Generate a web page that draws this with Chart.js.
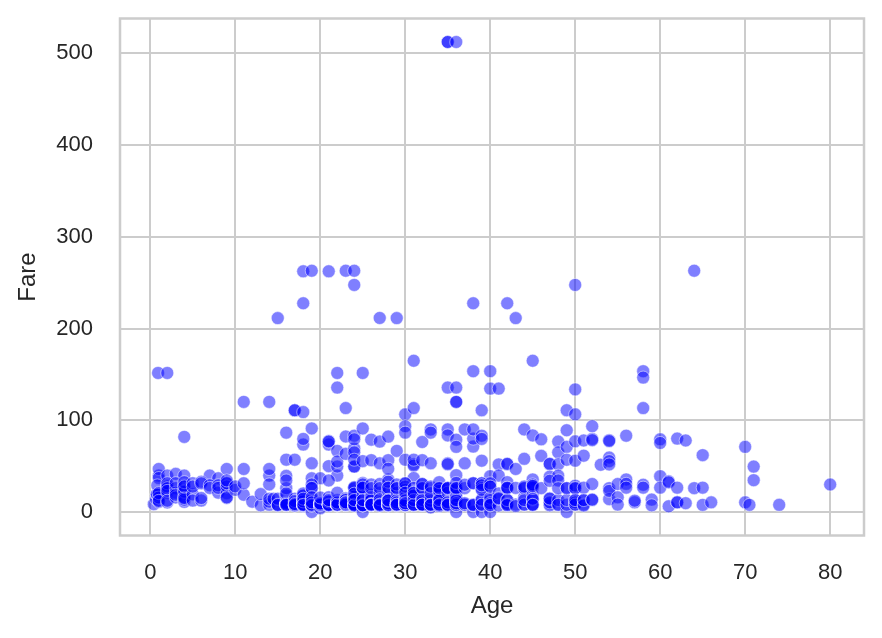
<!DOCTYPE html>
<html>
<head>
<meta charset="utf-8">
<script src="https://cdn.jsdelivr.net/npm/chart.js@4.4.1/dist/chart.umd.min.js"></script>
<style>
    html, body { margin: 0; padding: 0; background: #ffffff; }
    canvas { display: block; }
</style>
</head>
<body>
<canvas id="age-fare-chart" width="882" height="638"></canvas>
<script>
const POINT_FILL = "rgba(0, 0, 255, 0.5)";
const POINT_EDGE = "rgba(255, 255, 255, 0.5)";
const GRID_GREY = "#cccccc";
const TEXT_GREY = "#262626";
const FONT = "'Liberation Sans', Arial, sans-serif";

const AGE_TICKS = [0, 10, 20, 30, 40, 50, 60, 70, 80];
const FARE_TICKS = [0, 100, 200, 300, 400, 500];

// [age, fare], fares of 100 and up
const highFares = [
    [0.92, 151.55], [2, 151.55], [11, 120], [14, 120], [15, 211.34],
    [17, 110.88], [17, 110.88], [18, 108.9], [18, 262.38], [18, 227.53],
    [19, 263], [21, 262.38], [22, 151.55], [22, 135.63], [23, 113.28],
    [23, 263], [24, 263], [24, 247.52], [25, 151.55], [27, 211.5],
    [29, 211.34], [30, 106.43], [31, 113.28], [31, 164.87], [35, 135.63],
    [35, 512.33], [35, 512.33], [36, 512.33], [36, 135.63], [36, 120],
    [36, 120], [38, 227.53], [38, 153.46], [39, 110.88], [40, 153.46],
    [40, 134.5], [41, 134.5], [42, 227.53], [43, 211.34], [45, 164.87],
    [49, 110.88], [50, 133.65], [50, 106.43], [50, 247.52], [58, 153.46],
    [58, 146.52], [58, 113.28], [64, 263]
];

// fares between 35 and 100
const midFares = [
    [1, 39.69], [1, 46.9], [1, 37], [2, 39.69], [3, 41.58], [4, 39.69], [4, 81.86],
    [7, 39.69], [8, 36.75], [9, 46.9], [11, 46.9], [14, 39.69], [14, 46.9],
    [16, 39.4], [16, 86.5], [16, 57], [17, 57], [18, 73.5], [18, 79.65],
    [19, 91.08], [19, 53.1], [19, 36.75], [20, 36.75], [21, 73.5], [21, 50],
    [21, 77.29], [21, 76.73], [22, 39.69], [22, 66.6], [22, 49.5], [22, 55],
    [23, 63.36], [23, 82.27], [24, 49.5], [24, 69.3], [24, 83.16], [24, 79.2],
    [24, 49.5], [24, 65], [24, 57], [25, 91.08], [25, 55.44], [26, 56.5],
    [26, 78.85], [27, 76.73], [27, 53.1], [28, 35.5], [28, 82.17], [28, 56.5],
    [28, 47.1], [29, 66.6], [30, 93.5], [30, 86.5], [30, 56.93], [31, 52],
    [31, 50.5], [31, 37], [31, 57], [32, 56.5], [32, 76.29], [33, 90], [33, 86.5],
    [33, 53.1], [35, 53.1], [35, 90], [35, 83.48], [35, 52], [36, 78.85], [36, 71],
    [36, 40.13], [37, 53.1], [37, 90], [38, 71.28], [38, 80], [38, 90],
    [39, 83.16], [39, 79.65], [39, 55.9], [40, 39], [41, 51.86], [41, 39.69],
    [42, 52], [42, 52.55], [43, 46.9], [44, 90], [44, 57.98], [45, 83.48],
    [45, 35.5], [46, 79.2], [46, 61.18], [47, 52], [47, 52.55], [47, 38.5],
    [48, 76.73], [48, 65], [48, 52], [48, 39.6], [49, 89.1], [49, 71],
    [49, 56.93], [50, 55.9], [50, 77], [51, 77.96], [51, 61.38], [52, 93.5],
    [52, 79.65], [52, 78.27], [53, 51.48], [54, 78.27], [54, 77.29], [54, 59.4],
    [54, 55.44], [54, 51.86], [56, 83.16], [56, 35.5], [60, 79.2], [60, 75.25],
    [60, 39], [62, 80], [63, 77.96], [65, 61.98], [70, 71], [71, 49.5]
];

// the dense band below 35
const lowFares = [
    [0.42, 8.52], [0.67, 14.5], [0.75, 19.26], [0.75, 19.26], [0.83, 29], [0.83, 18.75],
    [1, 11.13], [1, 15.74], [1, 20.58], [1, 12.18],
    [2, 29.13], [2, 21.08], [2, 27.9], [2, 31.28], [2, 10.46], [2, 26], [2, 23], [2, 12.29],
    [3, 26], [3, 21.08], [3, 31.39], [3, 15.9], [3, 18.75],
    [4, 16.7], [4, 29.13], [4, 23], [4, 11.13], [4, 22.03], [4, 13.42], [4, 32.5], [4, 15.25], [4, 27.9],
    [5, 19.26], [5, 31.39], [5, 27.75], [5, 12.48],
    [6, 33], [6, 31.28], [6, 12.48], [6, 15.25],
    [7, 29.13], [7, 26.25], [8, 21.08], [8, 29.13], [8, 26.25],
    [9, 31.28], [9, 20.53], [9, 15.25], [9, 27.9], [9, 31.39], [9, 15.9], [9, 34.38],
    [10, 24.15], [10, 27.9], [11, 18.79], [11, 31.28], [12, 11.24], [13, 7.23], [13, 19.5],
    [14, 30.07], [14, 7.85], [14, 11.24], [14, 14.45], [14.5, 14.45],
    [15, 8.03], [15, 7.23], [15, 14.45], [15, 7.73],
    [16, 7.75], [16, 8.05], [16, 9.5], [16, 7.73], [16, 18], [16, 26], [16, 10.5], [16, 20.25],
    [16, 34.38], [16, 7.65], [16, 9.22], [16, 8.05], [16, 7.83],
    [17, 7.23], [17, 8.66], [17, 7.13], [17, 14.46], [17, 10.5], [17, 7.05], [17, 12], [17, 7.73], [17, 8.66],
    [18, 7.75], [18, 8.05], [18, 18], [18, 11.5], [18, 7.8], [18, 7.78], [18, 13], [18, 14.45],
    [18, 7.5], [18, 6.5], [18, 9.35], [18, 17.8], [18, 13], [18, 7.78], [18, 8.3], [18, 7.85],
    [18, 7.23], [18, 11.5], [18, 20.21], [18, 14.45], [18, 7.77],
    [19, 7.88], [19, 7.78], [19, 6.75], [19, 8.05], [19, 7.65], [19, 0], [19, 10.17], [19, 14.5],
    [19, 7.9], [19, 26], [19, 30], [19, 7.85], [19, 8.16], [19, 13], [19, 7.78], [19, 26.28],
    [19, 16.1], [19, 7.05], [19, 6.75], [19, 7.88], [19, 10.5],
    [20, 8.05], [20, 9.85], [20, 7.23], [20, 7.85], [20, 9.85], [20, 7.92], [20, 7.05], [20, 9.5],
    [20, 4.01], [20, 8.66], [20, 7.93], [20, 7.83], [20, 9.23], [20, 15.74],
    [21, 8.05], [21, 7.8], [21, 10.5], [21, 7.73], [21, 8.43], [21, 11.5], [21, 7.75], [21, 9.82],
    [21, 8.66], [21, 34.38], [21, 7.92], [21, 16.1], [21, 7.65], [21, 7.75], [21, 7.73], [21, 8.05],
    [21, 11.5], [21, 7.25], [21, 13],
    [22, 7.25], [22, 7.25], [22, 9], [22, 8.05], [22, 10.52], [22, 7.8], [22, 7.75], [22, 7.8],
    [22, 9.35], [22, 10.52], [22, 13], [22, 7.23], [22, 7.8], [22, 7.9], [22, 7.52], [22, 8.05],
    [22, 7.8], [22, 9.84], [22, 10.52], [22, 7.9], [22, 21],
    [23, 7.55], [23, 7.85], [23, 15.05], [23, 7.85], [23, 13.79], [23, 13], [23, 10.5], [23, 7.8],
    [23, 8.05], [23, 9.22], [23, 10.5],
    [24, 7.14], [24, 15.85], [24, 16.7], [24, 8.05], [24, 16.1], [24, 7.78], [24, 7.45], [24, 15.5],
    [24, 26], [24, 26], [24, 14.5], [24, 13], [24, 7.9], [24, 13], [24, 7.52], [24, 16.7], [24, 27],
    [24, 7.05], [24, 8.05], [24, 7.14], [24, 19.97], [24, 13],
    [25, 7.23], [25, 7.73], [25, 26], [25, 7.65], [25, 7.05], [25, 0], [25, 26], [25, 7.78],
    [25, 17.8], [25, 7.8], [25, 13], [25, 26], [25, 31.5], [25, 7.25], [25, 30], [25, 7.05],
    [25, 7.23], [25, 26.55], [25, 13],
    [26, 7.93], [26, 7.9], [26, 18.79], [26, 14.45], [26, 8.05], [26, 7.78], [26, 7.88], [26, 30],
    [26, 16.1], [26, 13], [26, 7.85], [26, 26], [26, 8.66], [26, 7.78], [26, 7.93],
    [27, 11.13], [27, 21], [27, 7.23], [27, 7.8], [27, 13], [27, 10.5], [27, 7.8], [27, 8.66],
    [27, 30.5], [27, 7.8], [27, 26], [27, 7.23], [27, 13.86], [27, 6.98], [27, 7.88],
    [28, 7.9], [28, 7.9], [28, 15.5], [28, 26], [28, 7.25], [28, 9.5], [28, 13], [28, 22.53],
    [28, 7.23], [28, 10.5], [28, 33], [28, 26.55], [28, 7.9], [28, 13.5], [28, 7.9], [28, 8.05],
    [28, 7.25], [28, 9.5], [28, 7.75], [28, 13], [28, 12.35],
    [29, 7.75], [29, 10.46], [29, 26], [29, 9.48], [29, 7.78], [29, 7.92], [29, 21], [29, 7.9],
    [29, 30], [29, 7.05], [29, 9.48], [29, 13], [29, 26], [29, 7.75], [29, 10.5], [29, 7.78], [29, 8.05],
    [30, 13], [30, 8.66], [30, 12.48], [30, 31], [30, 7.25], [30, 8.05], [30, 7.23], [30, 24.15],
    [30, 16.1], [30, 7.9], [30, 13], [30, 10.5], [30, 27.75], [30, 9.5], [30, 7.63], [30, 31.39],
    [30, 12.35], [30, 21], [30, 9.5],
    [31, 18], [31, 7.85], [31, 20.53], [31, 10.5], [31, 7.75], [31, 26.25], [31, 7.85], [31, 18],
    [31, 13], [31, 7.85], [31, 21],
    [32, 7.93], [32, 8.05], [32, 7.78], [32, 30.5], [32, 8.36], [32, 15.5], [32, 13], [32, 7.92],
    [32, 26], [32, 7.85], [32, 10.5], [32, 7.75], [32, 26], [32, 7.58], [32, 13], [32, 8.05],
    [32, 30.5], [32, 8.05],
    [33, 7.9], [33, 9.5], [33, 8.65], [33, 26], [33, 5], [33, 7.9], [33, 12.28], [33, 15.85],
    [33, 20.53], [33, 7.78], [33, 27.72], [33, 7.85],
    [34, 13], [34, 26], [34, 8.05], [34, 10.5], [34, 21], [34, 26.55], [34, 6.5], [34, 13],
    [34, 14.4], [34, 23], [34, 32.5], [34, 7.05], [34, 13], [34, 26], [34, 8.05],
    [35, 8.05], [35, 26], [35, 7.05], [35, 26.29], [35, 21], [35, 7.13], [35, 8.05], [35, 26.55],
    [35, 10.5], [35, 7.75], [35, 26],
    [36, 13], [36, 0], [36, 10.5], [36, 26], [36, 7.5], [36, 15.55], [36, 12.18], [36, 17.4],
    [36, 24.15], [36, 26.39], [36, 7.9], [36, 9.5], [36, 31.68], [36, 13], [36, 26],
    [37, 7.92], [37, 26], [37, 7.93], [37, 9.59], [37, 29.7],
    [38, 31.39], [38, 0], [38, 7.9], [38, 7.23], [38, 7.78], [38, 31.39],
    [39, 31.28], [39, 13], [39, 0], [39, 7.93], [39, 31.28], [39, 26], [39, 13.42], [39, 24.15],
    [39, 29.13], [39, 7.93],
    [40, 27.72], [40, 9.48], [40, 7.9], [40, 31.28], [40, 13], [40, 0], [40, 7.23], [40, 15.5],
    [40, 9.48], [40, 27.72], [40, 7.75],
    [41, 20.21], [41, 7.13], [41, 14.11], [41, 15.05],
    [42, 7.65], [42, 7.55], [42, 13], [42, 8.66], [42, 26.29], [42, 32.5], [42, 26], [42, 13],
    [42, 7.55], [42, 26.55],
    [43, 8.05], [43, 26.25], [43, 6.45],
    [44, 16.1], [44, 26], [44, 7.92], [44, 8.05], [44, 26], [44, 13], [44, 27.72],
    [45, 26.55], [45, 7.75], [45, 18.75], [45, 13.5], [45, 8.05], [45, 14.45], [45, 26.25],
    [45, 27.9], [45, 7.75], [45, 30], [45, 28.5],
    [46, 26], [47, 9], [47, 7.25], [47, 15], [47, 10.5], [47, 34.02], [47, 14.5],
    [48, 7.85], [48, 13], [48, 34.38], [48, 25.93], [48, 7.85],
    [49, 0], [49, 25.93], [49, 7.9], [49, 13], [49, 26],
    [50, 13], [50, 8.05], [50, 26], [50, 28.71], [50, 10.5], [50, 26], [50, 8.05], [50, 13],
    [51, 12.53], [51, 8.05], [51, 7.05], [51, 26.55], [51, 13],
    [52, 13], [52, 30.5], [52, 13.5], [54, 26], [54, 14], [54, 23],
    [55, 30.5], [55, 16], [55, 8.05], [56, 30.7], [56, 26.55], [57, 10.5], [57, 12.35],
    [58, 29.7], [58, 26.55], [59, 13.5], [59, 7.25], [60, 26.55],
    [61, 33.5], [61, 32.32], [61, 6.24], [62, 26.55], [62, 10.5], [62, 10.5], [63, 9.59],
    [64, 26], [65, 26.55], [65, 7.75], [66, 10.5], [70, 10.5], [70.5, 7.75], [71, 34.65],
    [74, 7.78], [80, 30]
];

const passengers = highFares.concat(midFares, lowFares);

// matplotlib style frame (spines on all four sides, drawn over the points)
const frame = {
    id: "frame",
    afterDatasetsDraw(chart) {
        const { ctx, chartArea: a } = chart;
        ctx.save();
        ctx.strokeStyle = GRID_GREY;
        ctx.lineWidth = 2.5;
        ctx.strokeRect(a.left, a.top, a.right - a.left, a.bottom - a.top);
        ctx.restore();
    }
};

new Chart(document.getElementById("age-fare-chart"), {
    type: "scatter",
    data: {
        datasets: [{
            label: "Fare",
            data: passengers.map(p => ({ x: p[0], y: p[1] })),
            backgroundColor: POINT_FILL,
            borderColor: POINT_EDGE,
            borderWidth: 1,
            pointRadius: 6.5,
            pointHoverRadius: 6.5,
        }]
    },
    options: {
        responsive: false,
        animation: false,
        events: [],
        layout: { padding: { top: 18.5, right: 18, left: 0, bottom: 0 } },
        plugins: {
            legend: { display: false },
            tooltip: { enabled: false }
        },
        scales: {
            x: {
                type: "linear",
                min: -3.56,
                max: 83.98,
                afterBuildTicks: s => { s.ticks = AGE_TICKS.map(v => ({ value: v })); },
                afterFit: s => {
                    s.height = 102.5;
                    s.paddingLeft = 0;
                    s.paddingRight = 0;
                },
                grid: { color: GRID_GREY, lineWidth: 2, drawTicks: false },
                border: { display: false },
                ticks: { padding: 24, color: TEXT_GREY, font: { family: FONT, size: 22 } },
                title: {
                    display: true, text: "Age", color: TEXT_GREY,
                    font: { family: FONT, size: 24 },
                    padding: { top: 0, bottom: 17.6 }
                }
            },
            y: {
                type: "linear",
                min: -25.62,
                max: 537.95,
                afterBuildTicks: s => { s.ticks = FARE_TICKS.map(v => ({ value: v })); },
                afterFit: s => {
                    s.width = 120;
                    s.paddingTop = 0;
                    s.paddingBottom = 0;
                },
                grid: { color: GRID_GREY, lineWidth: 2, drawTicks: false },
                border: { display: false },
                ticks: { padding: 27, color: TEXT_GREY, font: { family: FONT, size: 22 } },
                title: {
                    display: true, text: "Fare", color: TEXT_GREY,
                    font: { family: FONT, size: 24 },
                    padding: { top: 14.4, bottom: 0 }
                }
            }
        }
    },
    plugins: [frame]
});
</script>
</body>
</html>
